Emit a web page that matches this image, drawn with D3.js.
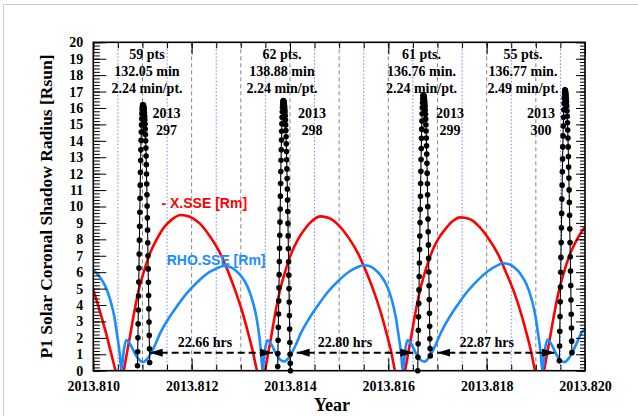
<!DOCTYPE html>
<meta charset="utf-8">
<style>
  body { margin: 0; background: #fff; }
  svg text { font-family: "Liberation Serif", "Times New Roman", serif; font-weight: bold; }
</style>
<body>
<div id="canvas"></div>
<script src="https://d3js.org/d3.v7.min.js"></script>
<script>

// -X.SSE [Rm]  (year, value)
var redSeries = [
  [2013.810000, 4.9], [2013.810136, 3.6], [2013.810258, 2.3], [2013.810360, 1.1], [2013.810452, 0], [2013.810533, -0.9], [2013.810618, 0],
  [2013.810679, 1.0], [2013.810740, 2.0], [2013.810822, 3.4], [2013.810923, 4.9], [2013.811025, 6.0], [2013.811147, 7.1], [2013.811289, 8.0],
  [2013.811432, 8.7], [2013.811595, 9.2], [2013.811778, 9.48], [2013.811961, 9.38], [2013.812164, 8.97], [2013.812367, 8.2], [2013.812571, 7.2],
  [2013.812733, 6.1], [2013.812896, 4.8], [2013.813018, 3.7], [2013.813140, 2.4], [2013.813242, 1.2], [2013.813329, 0], [2013.813411, -0.9], [2013.813492, 0],
  [2013.813553, 1.0], [2013.813614, 2.0], [2013.813695, 3.4], [2013.813797, 4.9], [2013.813899, 6.0], [2013.814021, 7.1], [2013.814163, 8.0],
  [2013.814306, 8.65], [2013.814458, 9.15], [2013.814621, 9.4], [2013.814794, 9.3], [2013.814977, 8.9], [2013.815180, 8.15], [2013.815383, 7.15],
  [2013.815546, 6.05], [2013.815709, 4.8], [2013.815831, 3.7], [2013.815953, 2.4], [2013.816055, 1.2], [2013.816136, 0], [2013.816238, -0.9], [2013.816339, 0],
  [2013.816400, 1.0], [2013.816461, 2.0], [2013.816543, 3.4], [2013.816644, 4.9], [2013.816746, 6.0], [2013.816868, 7.1], [2013.817010, 8.0],
  [2013.817153, 8.6], [2013.817305, 9.1], [2013.817458, 9.34], [2013.817641, 9.25], [2013.817824, 8.85], [2013.818027, 8.1], [2013.818231, 7.1],
  [2013.818393, 6.0], [2013.818556, 4.8], [2013.818678, 3.7], [2013.818800, 2.4], [2013.818902, 1.2], [2013.818983, 0], [2013.819075, -0.9], [2013.819166, 0],
  [2013.819227, 1.0], [2013.819288, 2.0], [2013.819370, 3.4], [2013.819471, 4.9], [2013.819573, 6.0], [2013.819695, 7.1], [2013.819837, 8.0], [2013.820000, 8.75]
];

// RHO.SSE [Rm]
var blueSeries = [
  [2013.810000, 6.14], [2013.810122, 5.75], [2013.810244, 5.15], [2013.810346, 4.3], [2013.810427, 3.3], [2013.810488, 2.1], [2013.810539, 1.0], [2013.810569, 0],
  [2013.810620, 1.25], [2013.810671, 1.87], [2013.810753, 1.6], [2013.810854, 1.0], [2013.810936, 0.65], [2013.811017, 0.53], [2013.811098, 0.72],
  [2013.811180, 1.1], [2013.811261, 1.6], [2013.811363, 2.3], [2013.811525, 3.15], [2013.811708, 3.95], [2013.811912, 4.75], [2013.812135, 5.45],
  [2013.812359, 6.0], [2013.812522, 6.25], [2013.812644, 6.38], [2013.812766, 6.33], [2013.812888, 6.12], [2013.813010, 5.75], [2013.813132, 5.15],
  [2013.813234, 4.3], [2013.813315, 3.3], [2013.813376, 2.1], [2013.813415, 1.0], [2013.813441, 0],
  [2013.813491, 1.25], [2013.813541, 1.85], [2013.813622, 1.6], [2013.813722, 1.0], [2013.813803, 0.66], [2013.813883, 0.56], [2013.813964, 0.75],
  [2013.814043, 1.12], [2013.814125, 1.62], [2013.814224, 2.3], [2013.814385, 3.15], [2013.814566, 3.97], [2013.814765, 4.78], [2013.814987, 5.48],
  [2013.815209, 6.04], [2013.815369, 6.3], [2013.815489, 6.42], [2013.815609, 6.37], [2013.815729, 6.16], [2013.815849, 5.78], [2013.815971, 5.18],
  [2013.816071, 4.32], [2013.816150, 3.3], [2013.816211, 2.1], [2013.816262, 1.0], [2013.816293, 0],
  [2013.816343, 1.25], [2013.816392, 1.86], [2013.816472, 1.6], [2013.816573, 1.0], [2013.816653, 0.66], [2013.816732, 0.55], [2013.816813, 0.75],
  [2013.816893, 1.13], [2013.816972, 1.64], [2013.817072, 2.33], [2013.817232, 3.2], [2013.817411, 4.02], [2013.817613, 4.84], [2013.817832, 5.55],
  [2013.818052, 6.12], [2013.818212, 6.4], [2013.818332, 6.54], [2013.818452, 6.49], [2013.818572, 6.27], [2013.818692, 5.88], [2013.818812, 5.25],
  [2013.818912, 4.38], [2013.818991, 3.35], [2013.819052, 2.12], [2013.819101, 1.0], [2013.819132, 0],
  [2013.819183, 1.25], [2013.819233, 1.9], [2013.819315, 1.62], [2013.819416, 1.0], [2013.819498, 0.64], [2013.819579, 0.52], [2013.819661, 0.72],
  [2013.819742, 1.1], [2013.819823, 1.62], [2013.819925, 2.3], [2013.820000, 2.55]
];

// shadow radius points of each pass [Rsun]
var spike297 = [0.3, 1.15, 2.0, 2.85, 3.7, 4.55, 5.4, 6.25, 7.1, 7.95, 8.8, 9.65, 10.5, 11.3, 12.08, 12.8, 13.45, 14.03, 14.53, 14.97,
  15.34, 15.64, 15.87, 16.03, 16.13, 16.18, 16.2,
  16.19, 16.16, 16.11, 16.04, 15.95, 15.83, 15.68, 15.5, 15.28, 15.02, 14.72, 14.38, 14.0, 13.56, 13.08, 12.55, 11.98, 11.37, 10.72, 10.03,
  9.31, 8.56, 7.79, 7.0, 6.2, 5.39, 4.58, 3.77, 2.96, 2.15, 1.34, 0.5];
var spike298 = [0.25, 1.05, 1.85, 2.65, 3.45, 4.25, 5.05, 5.85, 6.65, 7.45, 8.25, 9.05, 9.85, 10.63, 11.4, 12.13, 12.82, 13.46, 14.05, 14.58,
  15.04, 15.44, 15.77, 16.03, 16.22, 16.35, 16.42, 16.45,
  16.44, 16.41, 16.36, 16.29, 16.2, 16.08, 15.93, 15.75, 15.53, 15.27, 14.97, 14.63, 14.25, 13.82, 13.35, 12.84, 12.29, 11.7, 11.07, 10.4,
  9.7, 8.97, 8.21, 7.43, 6.63, 5.82, 5.0, 4.18, 3.36, 2.54, 1.72, 1.0, 0.45, 0.0];
var spike299 = [0.0, 0.82, 1.64, 2.46, 3.28, 4.1, 4.92, 5.74, 6.56, 7.38, 8.2, 9.02, 9.83, 10.62, 11.4, 12.15, 12.86, 13.53, 14.15, 14.71,
  15.21, 15.65, 16.02, 16.32, 16.54, 16.69, 16.77, 16.8,
  16.79, 16.76, 16.71, 16.64, 16.55, 16.43, 16.28, 16.1, 15.88, 15.62, 15.32, 14.98, 14.6, 14.17, 13.7, 13.19, 12.63, 12.03, 11.39, 10.71,
  9.99, 9.24, 8.46, 7.66, 6.84, 6.01, 5.17, 4.33, 3.5, 2.7, 1.95, 1.35, 0.9];
var spike300 = [0.6, 1.5, 2.4, 3.3, 4.2, 5.1, 6.0, 6.9, 7.8, 8.7, 9.58, 10.45, 11.3, 12.12, 12.9, 13.63, 14.3, 14.9, 15.43, 15.89,
  16.28, 16.6, 16.85, 17.02, 17.1,
  17.09, 17.05, 16.98, 16.88, 16.75, 16.58, 16.37, 16.12, 15.83, 15.49, 15.1, 14.66, 14.17, 13.63, 13.04, 12.41, 11.73, 11.01, 10.25, 9.46,
  8.64, 7.8, 6.94, 6.07, 5.19, 4.31, 3.44, 2.6, 1.8, 1.1];

var spikeStart = [2013.810899, 2013.813750, 2013.816598, 2013.819478];   // year of first point
var spikeCadence = [2.24, 2.24, 2.24, 2.49];                            // minutes per point
var spikeDoy = ["297", "298", "299", "300"];
var spikeInfo = [
  ["59 pts", "132.05 min", "2.24 min/pt."],
  ["62 pts.", "138.88 min", "2.24 min/pt."],
  ["61 pts.", "136.76 min.", "2.24 min/pt."],
  ["55 pts.", "136.77 min.", "2.49 min/pt."]
];
var infoX = [2013.811092, 2013.813838, 2013.816675, 2013.818739];
var doyX = [2013.811489, 2013.814448, 2013.817255, 2013.819105];

// gaps between passes
var gapFrom = [2013.811147, 2013.814137, 2013.816996];
var gapTo = [2013.813655, 2013.816508, 2013.819390];
var gapLabel = ["22.66 hrs", "22.80 hrs", "22.87 hrs"];
var gapLabelX = [2013.812272, 2013.815119, 2013.818001];

var xLabelTicks = [2013.810, 2013.812, 2013.814, 2013.816, 2013.818, 2013.820];
var yLabelTicks = [0, 1, 2, 3, 4, 5, 6, 7, 8, 9, 10, 11, 12, 13, 14, 15, 16, 17, 18, 19, 20];

var W = 638, H = 416;
var plot = {left: 93.3, right: 585, top: 42.3, bottom: 370.7};

var x = d3.scaleLinear().domain([2013.810, 2013.820]).range([plot.left, plot.right]);
var y = d3.scaleLinear().domain([0, 20]).range([plot.bottom, plot.top]);

var xMinor = d3.range(0, 21).map(function(i){ return 2013.810 + i * 0.0005; });
var xGridMajor = d3.range(1, 10).map(function(i){ return 2013.810 + i * 0.001; });
var xGridMinor = d3.range(0, 10).map(function(i){ return 2013.8105 + i * 0.001; });
var yMinor = d3.range(0, 101).map(function(i){ return i * 0.2; });

var svg = d3.select("#canvas").append("svg")
    .attr("width", W)
    .attr("height", H);

// thin page border (left + top)
svg.append("path")
    .attr("d", "M3.5," + H + "V4.5H" + W)
    .attr("fill", "none")
    .attr("stroke", "#c8c8c8")
    .attr("stroke-width", 1);

svg.append("clipPath").attr("id", "clip")
  .append("rect")
    .attr("x", plot.left).attr("y", plot.top)
    .attr("width", plot.right - plot.left).attr("height", plot.bottom - plot.top);

// grid
svg.append("g").selectAll("line").data(xGridMajor).enter().append("line")
    .attr("x1", function(d){ return x(d); }).attr("x2", function(d){ return x(d); })
    .attr("y1", plot.top).attr("y2", plot.bottom)
    .attr("stroke", "#777").attr("stroke-width", 0.9).attr("stroke-dasharray", "4,3");
svg.append("g").selectAll("line").data(xGridMinor).enter().append("line")
    .attr("x1", function(d){ return x(d); }).attr("x2", function(d){ return x(d); })
    .attr("y1", plot.top).attr("y2", plot.bottom)
    .attr("stroke", "#7b7bff").attr("stroke-width", 1).attr("stroke-dasharray", "1.5,2");

// curves
var curve = d3.line()
    .x(function(d){ return x(d[0]); })
    .y(function(d){ return y(d[1]); })
    .curve(d3.curveMonotoneX);

var curves = svg.append("g").attr("clip-path", "url(#clip)");
curves.append("path").datum(redSeries)
    .attr("d", curve).attr("fill", "none").attr("stroke", "#ff0000").attr("stroke-width", 2.6);
curves.append("path").datum(blueSeries)
    .attr("d", curve).attr("fill", "none").attr("stroke", "#1a8cff").attr("stroke-width", 2.6);

// passes
var passes = [spike297, spike298, spike299, spike300];
var line = d3.line()
    .x(function(d){ return x(d[0]); })
    .y(function(d){ return y(d[1]); });

passes.forEach(function(vals, k){
    var pts = vals.map(function(v, i){ return [spikeStart[k] + i * spikeCadence[k] / 525600, v]; });
    var g = svg.append("g");
    g.append("path").datum(pts)
        .attr("d", line).attr("fill", "none").attr("stroke", "#000").attr("stroke-width", 1.1);
    g.selectAll("circle").data(pts).enter().append("circle")
        .attr("cx", function(d){ return x(d[0]); })
        .attr("cy", function(d){ return y(d[1]); })
        .attr("r", 2.8)
        .attr("fill", "#000");
});

// arrows
var defs = svg.append("defs");
defs.append("marker")
    .attr("id", "head")
    .attr("viewBox", "0 0 13 8")
    .attr("refX", 13).attr("refY", 4)
    .attr("markerWidth", 13).attr("markerHeight", 8)
    .attr("markerUnits", "userSpaceOnUse")
    .attr("orient", "auto-start-reverse")
  .append("path")
    .attr("d", "M0,0L13,4L0,8Z")
    .attr("fill", "#000");

gapFrom.forEach(function(d, i){
    svg.append("line")
        .attr("x1", x(gapFrom[i])).attr("x2", x(gapTo[i]))
        .attr("y1", y(1.1)).attr("y2", y(1.1))
        .attr("stroke", "#000").attr("stroke-width", 2)
        .attr("stroke-dasharray", "7,4")
        .attr("marker-start", "url(#head)")
        .attr("marker-end", "url(#head)");
    svg.append("text")
        .attr("x", x(gapLabelX[i])).attr("y", y(1.46))
        .attr("text-anchor", "middle")
        .attr("font-size", 14)
        .text(gapLabel[i]);
});

// pass annotations
spikeInfo.forEach(function(lines, k){
    lines.forEach(function(t, j){
        svg.append("text")
            .attr("x", x(infoX[k]))
            .attr("y", y(19) + j * 17)
            .attr("text-anchor", "middle")
            .attr("font-size", 14)
            .text(t);
    });
    svg.append("text")
        .attr("x", x(doyX[k])).attr("y", y(15.4))
        .attr("text-anchor", "middle").attr("font-size", 14)
        .text("2013");
    svg.append("text")
        .attr("x", x(doyX[k])).attr("y", y(14.35))
        .attr("text-anchor", "middle").attr("font-size", 14)
        .text(spikeDoy[k]);
});

// series labels
svg.append("text")
    .attr("x", x(2013.811387)).attr("y", y(9.9))
    .style("font-family", "'Liberation Sans', Arial, sans-serif")
    .attr("font-size", 14).attr("fill", "#ff0000")
    .text("- X.SSE [Rm]");
svg.append("text")
    .attr("x", x(2013.811493)).attr("y", y(6.44))
    .style("font-family", "'Liberation Sans', Arial, sans-serif")
    .attr("font-size", 14).attr("fill", "#1a8cff")
    .text("RHO.SSE [Rm]");

// axes (ticks inward)
function styleAxis(g) {
    g.select(".domain").remove();
    g.selectAll(".tick line").attr("stroke", "#000").attr("stroke-width", 1);
    g.selectAll(".tick text")
        .style("font-family", "'Liberation Serif', 'Times New Roman', serif")
        .style("font-weight", "bold")
        .style("font-size", "14px")
        .attr("fill", "#000");
}

svg.append("g").attr("transform", "translate(0," + plot.bottom + ")")
    .call(d3.axisBottom(x).tickValues(xMinor).tickFormat("").tickSizeInner(-6).tickSizeOuter(0))
    .call(styleAxis);
svg.append("g").attr("transform", "translate(0," + plot.bottom + ")")
    .call(d3.axisBottom(x).tickValues(xLabelTicks).tickFormat(d3.format(".3f"))
        .tickSizeInner(-12).tickSizeOuter(0).tickPadding(10))
    .call(styleAxis);
svg.append("g").attr("transform", "translate(0," + plot.top + ")")
    .call(d3.axisTop(x).tickValues(xMinor).tickFormat("").tickSizeInner(-6).tickSizeOuter(0))
    .call(styleAxis);
svg.append("g").attr("transform", "translate(0," + plot.top + ")")
    .call(d3.axisTop(x).tickValues(xLabelTicks).tickFormat("").tickSizeInner(-12).tickSizeOuter(0))
    .call(styleAxis);

svg.append("g").attr("transform", "translate(" + plot.left + ",0)")
    .call(d3.axisLeft(y).tickValues(yMinor).tickFormat("").tickSizeInner(-6.5).tickSizeOuter(0))
    .call(styleAxis);
svg.append("g").attr("transform", "translate(" + plot.left + ",0)")
    .call(d3.axisLeft(y).tickValues(yLabelTicks).tickFormat(d3.format("d"))
        .tickSizeInner(-13).tickSizeOuter(0).tickPadding(10))
    .call(styleAxis);
svg.append("g").attr("transform", "translate(" + plot.right + ",0)")
    .call(d3.axisRight(y).tickValues(yMinor).tickFormat("").tickSizeInner(-5).tickSizeOuter(0))
    .call(styleAxis);
svg.append("g").attr("transform", "translate(" + plot.right + ",0)")
    .call(d3.axisRight(y).tickValues(yLabelTicks).tickFormat("").tickSizeInner(-9).tickSizeOuter(0))
    .call(styleAxis);

// frame
svg.append("rect")
    .attr("x", plot.left).attr("y", plot.top)
    .attr("width", plot.right - plot.left).attr("height", plot.bottom - plot.top)
    .attr("fill", "none").attr("stroke", "#000").attr("stroke-width", 1.6);

// axis titles
svg.append("text")
    .attr("transform", "translate(52," + ((plot.top + plot.bottom) / 2) + ") rotate(-90)")
    .attr("text-anchor", "middle")
    .attr("font-size", 17.5)
    .text("P1 Solar Coronal Shadow Radius [Rsun]");
svg.append("text")
    .attr("x", 332).attr("y", 411)
    .attr("text-anchor", "middle")
    .attr("font-size", 18)
    .text("Year");

</script>
</body>
